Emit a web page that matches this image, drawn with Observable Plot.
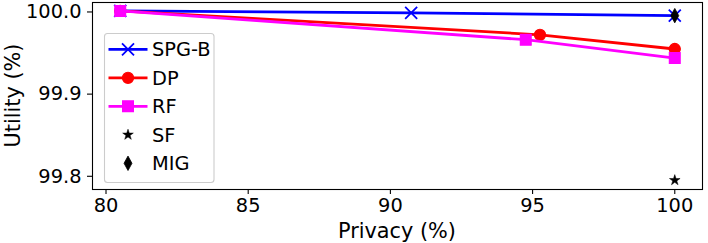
<!DOCTYPE html>
<html>
<head>
<meta charset="utf-8">
<script src="https://cdn.jsdelivr.net/npm/d3@7"></script>
<script src="https://cdn.jsdelivr.net/npm/@observablehq/plot@0.6"></script>
<style>
  html, body { margin: 0; padding: 0; background: white; }
  svg { display: block; }
</style>
</head>
<body>
<div id="chart"></div>
<script>
// ---- data ----
const seriesNames = ["SPG-B", "DP", "RF", "SF", "MIG"];
const privSPG = [80.5, 90.73, 100];
const utilSPG = [100.0, 99.9976, 99.9943];
const privDP = [80.5, 95.26, 100];
const utilDP = [100.0, 99.971, 99.9537];
const privRF = [80.5, 94.76, 100];
const utilRF = [100.0, 99.965, 99.9427];
const privSF = [100];
const utilSF = [99.794];
const privMIG = [100];
const utilMIG = [99.9943];
const xTicks = [80, 85, 90, 95, 100];
const yTicks = [99.8, 99.9, 100.0];

const toRows = (xs, ys) => xs.map((x, i) => ({x, y: ys[i]}));
const spg = toRows(privSPG, utilSPG);
const dp = toRows(privDP, utilDP);
const rf = toRows(privRF, utilRF);
const sf = toRows(privSF, utilSF);
const mig = toRows(privMIG, utilMIG);

// ---- custom symbols (r = half extent) ----
const R = s => Math.sqrt(s / Math.PI);
const symX = {draw(c, s) { const r = R(s); c.moveTo(-r, -r); c.lineTo(r, r); c.moveTo(-r, r); c.lineTo(r, -r); }};
const symSquare = {draw(c, s) { const r = R(s); c.rect(-r, -r, 2 * r, 2 * r); }};
const symStar = {draw(c, s) {
  const r = R(s), ri = r * 0.381966;
  for (let i = 0; i < 10; i++) {
    const a = -Math.PI / 2 + i * Math.PI / 5, rr = i % 2 ? ri : r;
    const px = rr * Math.cos(a), py = rr * Math.sin(a);
    i ? c.lineTo(px, py) : c.moveTo(px, py);
  }
  c.closePath();
}};
const symThinDiamond = {draw(c, s) { const r = R(s), w = r * 0.55; c.moveTo(0, -r); c.lineTo(w, 0); c.lineTo(0, r); c.lineTo(-w, 0); c.closePath(); }};

const BLUE = "#0000ff", RED = "#ff0000", MAG = "#ff00ff", BLK = "#000000";
const LW = 2.8;
const TICK_FS = 19.4, LABEL_FS = 20.8, LEG_FS = 19.4;

const plot = Plot.plot({
  width: 708,
  height: 243,
  marginLeft: 92,
  marginRight: 6,
  marginTop: 2,
  marginBottom: 54,
  x: {domain: [79.525, 100.975]},
  y: {domain: [99.7827, 100.0103]},
  style: {fontFamily: "DejaVu Sans", fontSize: TICK_FS + "px", color: "black", background: "white", overflow: "visible"},
  marks: [
    Plot.axisX(xTicks, {tickSize: 5, tickPadding: 4, fontSize: TICK_FS, label: null, strokeWidth: 1.1}),
    Plot.axisY(yTicks, {tickSize: 5, tickPadding: 6, fontSize: TICK_FS, label: null, tickFormat: d => d.toFixed(1), dy: 1, strokeWidth: 1.1}),
    Plot.line(spg, {x: "x", y: "y", stroke: BLUE, strokeWidth: LW}),
    Plot.dot(spg, {x: "x", y: "y", symbol: symX, r: 6, stroke: BLUE, strokeWidth: 1.8, fill: "none"}),
    Plot.line(dp, {x: "x", y: "y", stroke: RED, strokeWidth: LW}),
    Plot.dot(dp, {x: "x", y: "y", symbol: "circle", r: 5.55, fill: RED, stroke: RED, strokeWidth: 1.2}),
    Plot.line(rf, {x: "x", y: "y", stroke: MAG, strokeWidth: LW}),
    Plot.dot(rf, {x: "x", y: "y", symbol: symSquare, r: 5.4, fill: MAG, stroke: MAG, strokeWidth: 1.2}),
    Plot.dot(sf, {x: "x", y: "y", symbol: symStar, r: 5.6, fill: BLK, stroke: BLK, strokeWidth: 0.5}),
    Plot.dot(mig, {x: "x", y: "y", symbol: symThinDiamond, r: 7.2, fill: BLK, stroke: BLK, strokeWidth: 0.8}),
    Plot.frame({stroke: "black", strokeWidth: 1.1})
  ]
});

document.getElementById("chart").appendChild(plot);

// ---- axis titles and legend ----
const svg = d3.select(plot);
svg.append("text").text("Privacy (%)")
  .attr("x", 397).attr("y", 237.5).attr("text-anchor", "middle")
  .style("font-size", LABEL_FS + "px").attr("fill", "black");
svg.append("text").text("Utility (%)")
  .attr("transform", "translate(20,95.5) rotate(-90)").attr("text-anchor", "middle")
  .style("font-size", LABEL_FS + "px").attr("fill", "black");

const lg = svg.append("g");
lg.append("rect").attr("x", 104.5).attr("y", 33.5).attr("width", 109.5).attr("height", 149)
  .attr("rx", 3).attr("fill", "white").attr("fill-opacity", 0.8).attr("stroke", "#cccccc").attr("stroke-width", 1.1);
const legendItems = [
  {name: seriesNames[0], color: BLUE, line: true, sym: symX, size: 6, fill: "none", sw: 1.8},
  {name: seriesNames[1], color: RED, line: true, sym: d3.symbolCircle, size: 5.55, fill: RED, sw: 1.2},
  {name: seriesNames[2], color: MAG, line: true, sym: symSquare, size: 5.4, fill: MAG, sw: 1.2},
  {name: seriesNames[3], color: BLK, line: false, sym: symStar, size: 5.6, fill: BLK, sw: 0.5},
  {name: seriesNames[4], color: BLK, line: false, sym: symThinDiamond, size: 7.2, fill: BLK, sw: 0.8}
];
legendItems.forEach((it, i) => {
  const cy = 49.3 + i * 28.5;
  if (it.line) {
    lg.append("line").attr("x1", 108.5).attr("x2", 147.5).attr("y1", cy).attr("y2", cy)
      .attr("stroke", it.color).attr("stroke-width", LW);
  }
  lg.append("path")
    .attr("d", d3.symbol().type(it.sym).size(it.size * it.size * Math.PI)())
    .attr("transform", `translate(128,${cy})`)
    .attr("fill", it.fill).attr("stroke", it.color).attr("stroke-width", it.sw);
  lg.append("text").text(it.name).attr("x", 152).attr("y", cy).attr("dy", "0.36em")
    .attr("text-anchor", "start")
    .style("font-size", LEG_FS + "px").attr("fill", "black");
});
</script>
</body>
</html>
